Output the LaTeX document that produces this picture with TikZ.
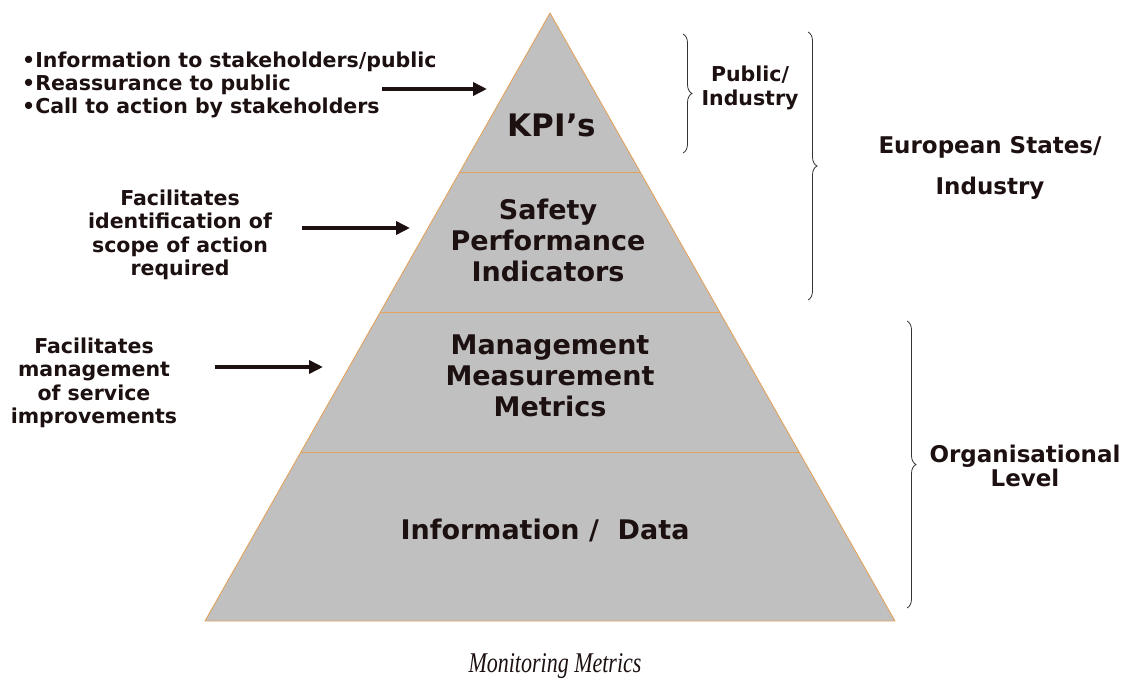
\documentclass[tikz,border=0pt]{standalone}
\usepackage{fontspec}
\usepackage{graphicx}
\setmainfont{DejaVu Sans}
\newfontfamily\capfont{Liberation Serif}
\usetikzlibrary{arrows.meta,decorations.pathreplacing,calc}
\definecolor{txt}{HTML}{1C1010}
\definecolor{pyrfill}{HTML}{C0C0C0}
\definecolor{pyrline}{HTML}{E3A35E}
\tikzset{
  lbl/.style={text=txt,font=\bfseries\fontsize{20.5}{23.4}\selectfont,align=center,inner sep=0pt},
  lvl/.style={text=txt,font=\bfseries\fontsize{27}{31}\selectfont,align=center,inner sep=0pt},
  side/.style={text=txt,font=\bfseries\fontsize{23}{24.5}\selectfont,align=center,inner sep=0pt},
  arr/.style={line width=4pt,txt,-{Triangle[length=14pt,width=13pt]}},
  brc/.style={decorate,decoration={brace,amplitude=9pt},line width=0.8pt,black!80},
  layer/.style={draw=pyrline,line width=0.9pt}
}
\begin{document}
\begin{tikzpicture}[x=1pt,y=-1pt]
\useasboundingbox (0,0) rectangle (1129,682);
% pyramid
\coordinate (apex) at (550,13);
\coordinate (bl) at (205,621);
\coordinate (br) at (895,621);
\fill[pyrfill] (apex) -- (br) -- (bl) -- cycle;
\draw[layer] ($(apex)!0.2615!(bl)$) -- ($(apex)!0.2615!(br)$);
\draw[layer] ($(apex)!0.4918!(bl)$) -- ($(apex)!0.4918!(br)$);
\draw[layer] ($(apex)!0.7220!(bl)$) -- ($(apex)!0.7220!(br)$);
\draw[layer,line join=round] (apex) -- (br) -- (bl) -- cycle;
% level texts
\node[lvl,font=\bfseries\fontsize{31}{34}\selectfont,anchor=base] (kpi) at (552,136) {KPI’s};
\node[lvl] (spi) at (548,240) {Safety\\Performance\\Indicators};
\node[lvl] (mmm) at (550,376) {Management\\Measurement\\Metrics};
\node[lvl,anchor=base] (data) at (545,539) {Information /\ \ Data};
% left texts
\node[lbl,align=left,anchor=west] (t1) at (22,85) {•Information to stakeholders/public\\•Reassurance to public\\•Call to action by stakeholders};
\node[lbl] (t2) at (180,235) {Facilitates\\identification of\\scope of action\\required};
\node[lbl] (t3) at (94,383) {Facilitates\\management\\of service\\improvements};
% arrows
\coordinate (a1s) at (382,89); \coordinate (a1e) at (487,89);
\coordinate (a2s) at (302,228); \coordinate (a2e) at (410,228);
\coordinate (a3s) at (215,367); \coordinate (a3e) at (323,367);
\draw[arr] (a1s) -- (a1e);
\draw[arr] (a2s) -- (a2e);
\draw[arr] (a3s) -- (a3e);
% braces
\coordinate (b1t) at (683,34); \coordinate (b1b) at (683,153);
\coordinate (b2t) at (808,32); \coordinate (b2b) at (808,300);
\coordinate (b3t) at (907,321); \coordinate (b3b) at (907,608);
\draw[brc] (b1t) -- (b1b);
\draw[brc] (b2t) -- (b2b);
\draw[brc] (b3t) -- (b3b);
\node[lbl] (pi) at (750,88) {Public/\\Industry};
\node[side,font=\bfseries\fontsize{23}{41}\selectfont] (es) at (990,168) {European States/\\Industry};
\node[side] (ol) at (1025,466) {Organisational\\Level};
% caption
\node[text=txt,font=\capfont\itshape\fontsize{22}{26}\selectfont,inner sep=0pt] (cap) at (555,666) {\scalebox{1}[1.3]{Monitoring Metrics}};
\end{tikzpicture}
\end{document}
